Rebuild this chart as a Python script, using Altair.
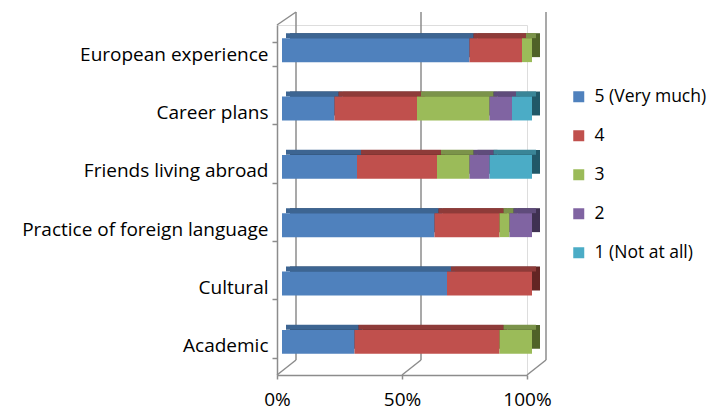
import altair as alt
import pandas as pd

categories = ["European experience", "Career plans", "Friends living abroad",
              "Practice of foreign language", "Cultural", "Academic"]
levels = ["5 (Very much)", "4", "3", "2", "1 (Not at all)"]
v5 = [75, 21, 30, 61, 66, 29]
v4 = [21, 33, 32, 26, 34, 58]
v3 = [4, 29, 13, 4, 0, 13]
v2 = [0, 9, 8, 9, 0, 0]
v1 = [0, 8, 17, 0, 0, 0]
x_ticks = [0, 0.5, 1]

front_colors = ["#4F81BD", "#C0504D", "#9BBB59", "#8064A2", "#4BACC6"]
top_colors = ["#3D6592", "#8E3B39", "#7B934A", "#5F4C7B", "#3A8597"]
side_colors = ["#244061", "#632523", "#4F6228", "#3F3151", "#215868"]

FONT = "Open Sans"
GRAY = "#8C8C8C"
W, H = 250, 350

rows = []
for series, vals in zip(levels, [v5, v4, v3, v2, v1]):
    for cat, v in zip(categories, vals):
        rows.append({"cat": cat, "level": series, "value": v,
                     "ord": levels.index(series)})
df = pd.DataFrame(rows)
ticks_df = pd.DataFrame({"t": x_ticks})

xscale = alt.Scale(domain=[0, 1])
yenc = alt.Y("cat:N", sort=categories, title=None,
             scale=alt.Scale(paddingInner=0.59, paddingOuter=0.295),
             axis=alt.Axis(domainColor=GRAY, domainWidth=1.5, tickColor=GRAY,
                           tickWidth=1.5, tickSize=5, tickBand="extent",
                           labelFont=FONT, labelFontSize=19, labelColor="#000000",
                           labelPadding=4, grid=False, labelLimit=300))

# back-wall gridlines
grid = alt.Chart(ticks_df).mark_rule(color=GRAY, strokeWidth=1.5,
                                     xOffset=19, yOffset=-13, y2Offset=-15).encode(
    x=alt.X("t:Q", scale=xscale),
    y=alt.value(0), y2=alt.value(H))

# floor connectors
floor = alt.Chart(ticks_df).mark_rule(color=GRAY, strokeWidth=1.5,
                                      x2Offset=19, y2Offset=-15).encode(
    x=alt.X("t:Q", scale=xscale), x2="t:Q",
    y=alt.value(H), y2=alt.value(H))

# top-left wall connector
wall = alt.Chart(ticks_df).transform_filter("datum.t == 0").mark_rule(
    color=GRAY, strokeWidth=1.5, x2Offset=19, y2Offset=-13).encode(
    x=alt.X("t:Q", scale=xscale), x2="t:Q",
    y=alt.value(0), y2=alt.value(0))

xenc = alt.X("sum(value):Q", stack="normalize", scale=xscale, title=None,
             axis=alt.Axis(values=x_ticks, format="%", domainColor=GRAY,
                           domainWidth=1.5, tickColor=GRAY, tickWidth=1.5,
                           tickSize=4, grid=False, labelFont=FONT,
                           labelFontSize=19, labelColor="#000000",
                           labelPadding=11, labelFlush=False))

side = alt.Chart(df).mark_bar(xOffset=13, yOffset=-9).encode(
    x=xenc, y=yenc,
    color=alt.Color("level:N", sort=levels,
                    scale=alt.Scale(domain=levels, range=side_colors), legend=None),
    order=alt.Order("ord:Q"))

top = alt.Chart(df).mark_bar(xOffset=9, yOffset=-18.5, size=5).encode(
    x=xenc, y=yenc,
    color=alt.Color("level:N", sort=levels,
                    scale=alt.Scale(domain=levels, range=top_colors), legend=None),
    order=alt.Order("ord:Q"))

front = alt.Chart(df).mark_bar(xOffset=5, yOffset=-4).encode(
    x=xenc, y=yenc,
    fill=alt.Fill("level:N", sort=levels,
                  scale=alt.Scale(domain=levels, range=front_colors),
                  legend=alt.Legend(title=None, orient="none", legendX=293, legendY=63,
                                    symbolType="square", symbolSize=121,
                                    symbolStrokeWidth=0, labelFont=FONT,
                                    labelFontSize=17.5, labelColor="#000000",
                                    rowPadding=20, labelOffset=7, labelLimit=200)),
    order=alt.Order("ord:Q"))

chart = alt.layer(grid, floor, wall, side, top, front).resolve_scale(
    color="independent").properties(
    width=W, height=H,
    autosize=alt.AutoSizeParams(type="none"),
    padding={"left": 269, "top": 17, "right": 182, "bottom": 35},
).configure_view(stroke=None).configure(background="#FFFFFF")

chart.save("out.html", embed_options={"renderer": "svg", "actions": False})
